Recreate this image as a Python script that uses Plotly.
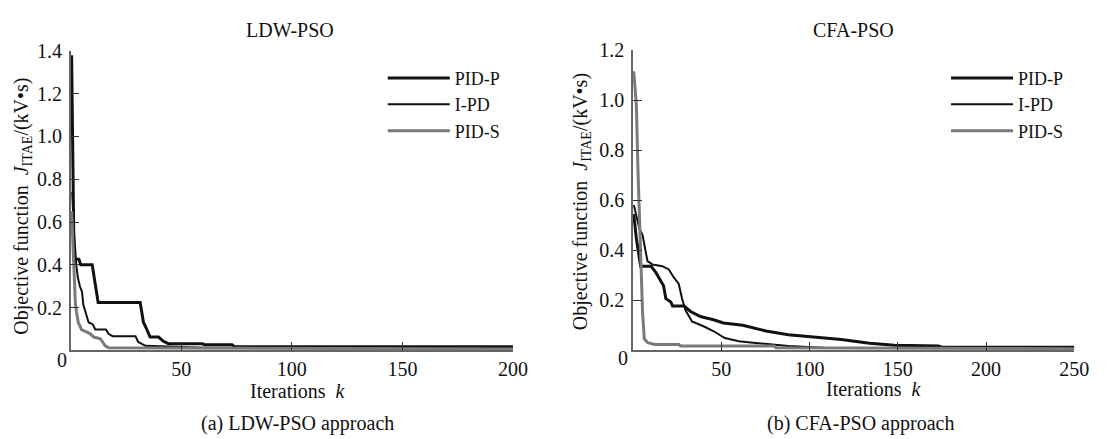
import plotly.graph_objects as go

# LDW-PSO panel (iterations k, objective value)
ldw_pidp_k = [0.4, 1.0, 1.5, 3.7, 4.5, 9.7, 12.4, 31.4, 32.9, 34.0, 35.9, 39.7, 41.9, 44.2, 59.5, 60.5, 73, 74, 200]
ldw_pidp_v = [1.38, 0.80, 0.426, 0.426, 0.40, 0.40, 0.224, 0.224, 0.13, 0.107, 0.062, 0.062, 0.042, 0.031, 0.031, 0.026, 0.026, 0.017, 0.016]
ldw_ipd_k = [0.7, 1.5, 2.5, 3.2, 4.2, 5.1, 5.7, 6.9, 8.1, 9.9, 11.1, 15.9, 17.1, 18.9, 29.3, 30.5, 33.8, 60, 200]
ldw_ipd_v = [0.74, 0.55, 0.40, 0.34, 0.297, 0.274, 0.213, 0.175, 0.13, 0.122, 0.097, 0.097, 0.077, 0.066, 0.066, 0.039, 0.021, 0.012, 0.008]
ldw_pids_k = [0.4, 1.3, 2.1, 2.6, 3.4, 4.9, 6.7, 8.9, 10.4, 13.4, 15.6, 17.1, 200]
ldw_pids_v = [0.65, 0.40, 0.22, 0.18, 0.13, 0.097, 0.087, 0.077, 0.062, 0.054, 0.021, 0.012, 0.006]

# CFA-PSO panel
cfa_pidp_k = [0.4, 1.9, 4.3, 10.2, 13.0, 15.8, 17.3, 18.6, 21.4, 22.4, 28.9, 32.6, 38.2, 45.6, 51.2, 62.2, 75.3, 88, 100, 118, 134, 148, 173, 175, 250]
cfa_pidp_v = [0.544, 0.446, 0.336, 0.336, 0.31, 0.277, 0.258, 0.206, 0.193, 0.177, 0.177, 0.155, 0.135, 0.122, 0.109, 0.10, 0.077, 0.062, 0.055, 0.043, 0.028, 0.02, 0.017, 0.012, 0.012]
cfa_ipd_k = [0.5, 3.6, 5.4, 7.3, 8.2, 11.0, 16.6, 20.3, 23.1, 25.9, 27.8, 29.7, 33.4, 39.9, 45.5, 52, 60, 68, 78, 88, 108, 250]
cfa_ipd_v = [0.58, 0.486, 0.46, 0.395, 0.356, 0.343, 0.336, 0.323, 0.291, 0.265, 0.206, 0.161, 0.115, 0.096, 0.077, 0.049, 0.036, 0.03, 0.023, 0.017, 0.01, 0.008]
cfa_pids_k = [0.4, 1.9, 2.8, 3.7, 4.6, 5.4, 6.4, 8.4, 12.3, 26, 27, 80, 81, 250]
cfa_pids_v = [1.115, 0.98, 0.72, 0.52, 0.33, 0.15, 0.045, 0.03, 0.023, 0.023, 0.017, 0.017, 0.01, 0.006]

ldw_yticks = [0.2, 0.4, 0.6, 0.8, 1.0, 1.2, 1.4]
cfa_yticks = [0.2, 0.4, 0.6, 0.8, 1.0, 1.2]
ldw_xticks = [50, 100, 150, 200]
cfa_xticks = [50, 100, 150, 200, 250]

W, H = 1110, 439
FONT = "Liberation Serif"
BLACK = "#111111"
GRAY = "#7a7a7a"


def px(x):
    return x / W


def py(y):
    return 1 - y / H


fig = go.Figure()

fig.add_trace(go.Scatter(x=ldw_pidp_k, y=ldw_pidp_v, name="PID-P", mode="lines",
                         line=dict(color=BLACK, width=3), xaxis="x", yaxis="y", legend="legend"))
fig.add_trace(go.Scatter(x=ldw_ipd_k, y=ldw_ipd_v, name="I-PD", mode="lines",
                         line=dict(color=BLACK, width=2), xaxis="x", yaxis="y", legend="legend"))
fig.add_trace(go.Scatter(x=ldw_pids_k, y=ldw_pids_v, name="PID-S", mode="lines",
                         line=dict(color=GRAY, width=3), xaxis="x", yaxis="y", legend="legend"))

fig.add_trace(go.Scatter(x=cfa_pidp_k, y=cfa_pidp_v, name="PID-P", mode="lines",
                         line=dict(color=BLACK, width=3), xaxis="x2", yaxis="y2", legend="legend2"))
fig.add_trace(go.Scatter(x=cfa_ipd_k, y=cfa_ipd_v, name="I-PD", mode="lines",
                         line=dict(color=BLACK, width=2), xaxis="x2", yaxis="y2", legend="legend2"))
fig.add_trace(go.Scatter(x=cfa_pids_k, y=cfa_pids_v, name="PID-S", mode="lines",
                         line=dict(color=GRAY, width=3), xaxis="x2", yaxis="y2", legend="legend2"))

axis_common = dict(showline=True, linecolor="#666666", linewidth=1.5, showgrid=False, zeroline=False,
                   ticks="inside", ticklen=9, tickwidth=1.2, tickcolor="#333333",
                   tickfont=dict(family=FONT, size=20, color="#111111"))

fig.update_layout(
    width=W, height=H, autosize=False,
    margin=dict(l=0, r=0, t=0, b=0),
    paper_bgcolor="white", plot_bgcolor="white",
    font=dict(family=FONT, size=20, color="#111111"),
    xaxis=dict(domain=[px(71.7), px(520)], range=[0, 200], tickvals=ldw_xticks, anchor="y", **axis_common),
    yaxis=dict(domain=[py(348), py(41)], range=[0, 1.4], tickvals=ldw_yticks, tickformat=".1f",
               ticklabelstandoff=3, anchor="x", **axis_common),
    xaxis2=dict(domain=[px(641.7), px(1089)], range=[0, 250], tickvals=cfa_xticks, anchor="y2", **axis_common),
    yaxis2=dict(domain=[py(348), py(40)], range=[0, 1.2], tickvals=cfa_yticks, tickformat=".1f",
                ticklabelstandoff=3, anchor="x2", **axis_common),
    legend=dict(x=px(388), y=py(50), xanchor="left", yanchor="top", itemwidth=62,
                font=dict(family=FONT, size=18), bgcolor="rgba(0,0,0,0)", tracegroupgap=0),
    legend2=dict(x=px(959), y=py(50), xanchor="left", yanchor="top", itemwidth=62,
                 font=dict(family=FONT, size=18), bgcolor="rgba(0,0,0,0)", tracegroupgap=0),
)

ytitle = "Objective function  <i>J</i><sub>ITAE</sub>/(kV\u2022s)"
notes = [
    ("LDW-PSO", 294, 20, 0), ("CFA-PSO", 865, 20, 0),
    ("Iterations  <i>k</i>", 302, 390, 0), ("Iterations  <i>k</i>", 886, 388, 0),
    ("(a) LDW-PSO approach", 302, 423, 0), ("(b) CFA-PSO approach", 872, 423, 0),
    ("0", 63, 358, 0), ("0", 632, 356, 0),
    (ytitle, 23, 200, -90), (ytitle, 589, 196, -90),
]
for text, x, y, ang in notes:
    fig.add_annotation(text=text, x=px(x), y=py(y), xref="paper", yref="paper",
                       showarrow=False, textangle=ang, xanchor="center", yanchor="middle",
                       font=dict(family=FONT, size=20, color="#111111"))

fig.write_html("out.html", config={"displayModeBar": False},
               post_script="document.body.style.margin='0';document.body.style.overflow='hidden';")
